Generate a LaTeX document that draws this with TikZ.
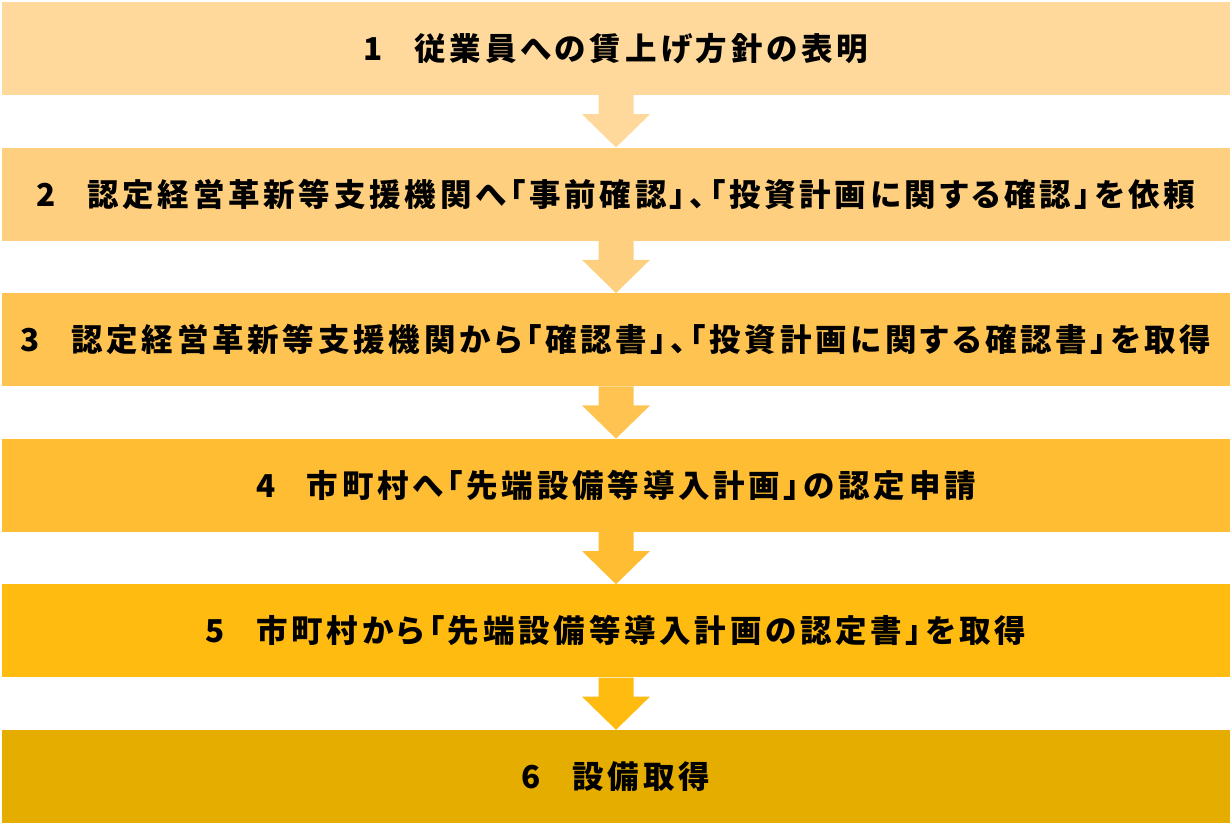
\documentclass[tikz,border=0pt]{standalone}
\usepackage{fontspec}
\newfontfamily\jpfont{Noto Sans CJK JP}[RawFeature=+palt,LetterSpace=12]
\usetikzlibrary{calc}

\definecolor{c1}{HTML}{FED99B}
\definecolor{c2}{HTML}{FECF7E}
\definecolor{c3}{HTML}{FEC350}
\definecolor{c4}{HTML}{FEBD32}
\definecolor{c5}{HTML}{FFBB10}
\definecolor{c6}{HTML}{E5AD00}

\begin{document}
\begin{tikzpicture}[x=1pt,y=-1pt]
% Styles
\tikzstyle{stepband}=[minimum width=1228pt,minimum height=93pt,inner sep=0pt,
  font=\jpfont\bfseries\fontsize{31.5}{36}\selectfont,text=black]

\useasboundingbox (0,0) rectangle (1232,825);

% draw the steps
\foreach \i/\txt in {
1/{1\hspace{1em}従業員への賃上げ方針の表明},
2/{2\hspace{1em}認定経営革新等支援機関へ「事前確認」、「投資計画に関する確認」を依頼},
3/{3\hspace{1em}認定経営革新等支援機関から「確認書」、「投資計画に関する確認書」を取得},
4/{4\hspace{1em}市町村へ「先端設備等導入計画」の認定申請},
5/{5\hspace{1em}市町村から「先端設備等導入計画の認定書」を取得},
6/{6\hspace{1em}設備取得}} {
\node[stepband,fill=c\i] (s\i) at (616,{48.5+145.6*(\i-1)}) {\txt};
}

%fill arrows
\foreach \i in {1,...,5} {
\pgfmathtruncatemacro\j{\i+1}
\fill[c\i] ($(s\i.south)+(-17.5,0)$) -- ++(0,19) -- ++(-16.5,0) -- (s\j.north)
  -- ($(s\i.south)+(34,19)$) -- ++(-16.5,0) -- ($(s\i.south)+(17.5,0)$) -- cycle;
}

\end{tikzpicture}
\end{document}
